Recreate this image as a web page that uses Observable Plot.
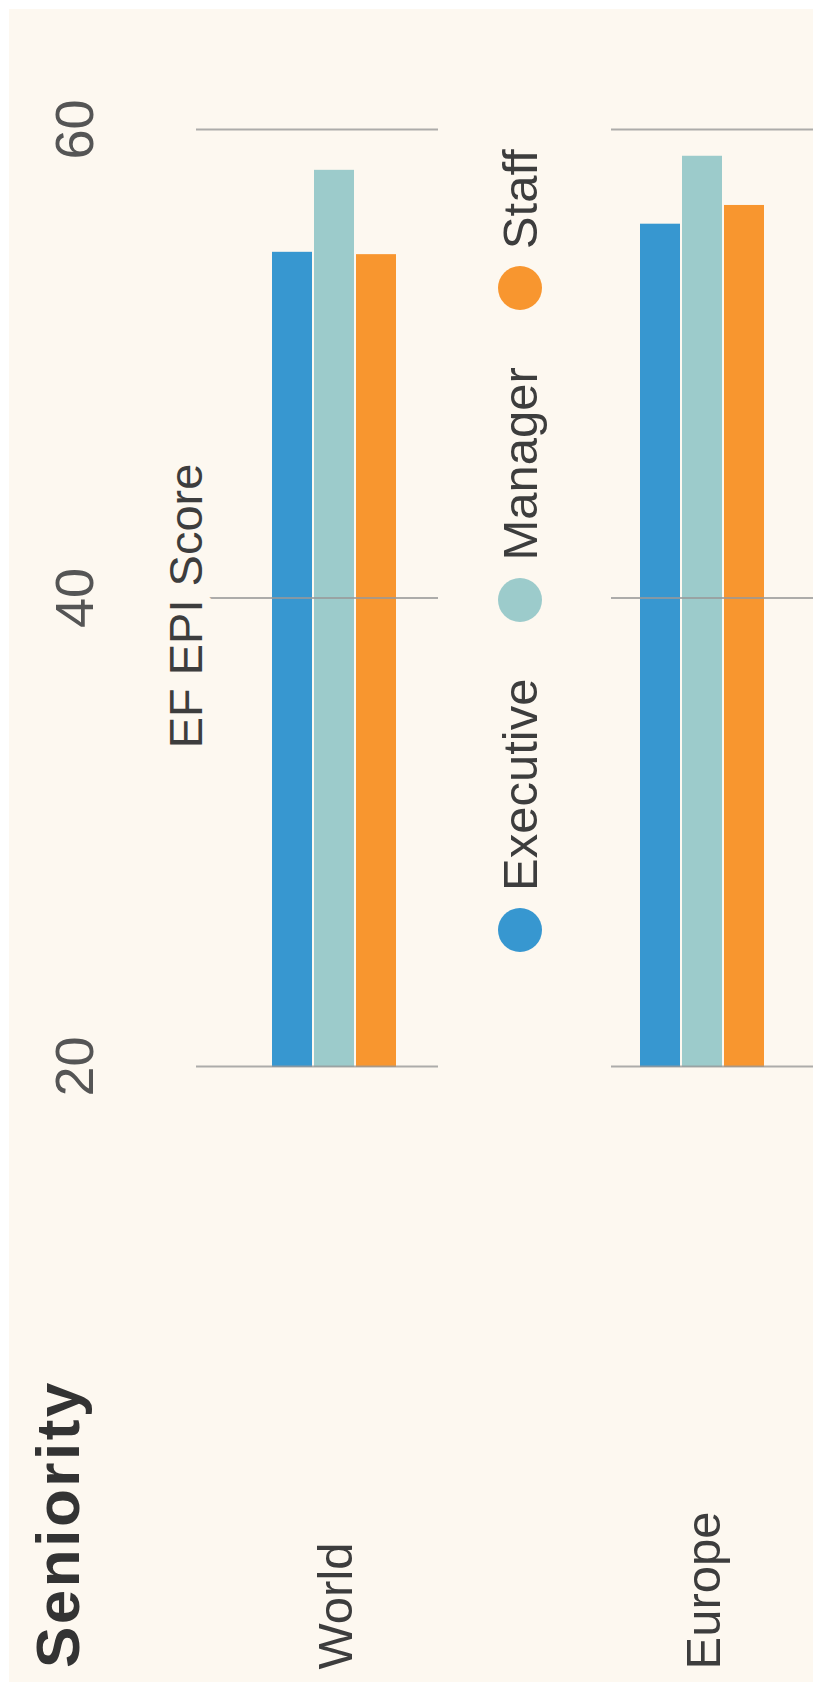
<!DOCTYPE html>
<html>
<head>
<meta charset="utf-8">
<script src="https://cdn.jsdelivr.net/npm/d3@7"></script>
<script src="https://cdn.jsdelivr.net/npm/@observablehq/plot@0.6"></script>
<style>
  html, body { margin: 0; padding: 0; width: 813px; height: 1691px; overflow: hidden; background: #ffffff; }
  #rot { position: absolute; left: 0; top: 0; width: 1691px; height: 813px; overflow: hidden;
         transform-origin: 0 0; transform: translateY(1691px) rotate(-90deg);
         font-family: 'Liberation Sans', Arial, Helvetica, sans-serif; }
  #panel { position: absolute; left: 9px; top: 9px; right: 9px; bottom: 0; background: #fdf8f0; }
  #title { position: absolute; left: 23px; top: 27px; font-weight: bold; font-size: 62px; letter-spacing: 2.5px;
           line-height: 1; color: #333333; white-space: nowrap; }
  #chart { position: absolute; left: 0; top: 0; }
  #legend { position: absolute; left: 560px; top: 438px; width: 1100px; height: 173px; box-sizing: border-box;
            padding-left: 179px; padding-bottom: 10px; background: #fdf8f0; display: flex; align-items: center; }
  .item { display: flex; align-items: center; margin-right: 57px; }
  .dot { width: 44px; height: 44px; border-radius: 50%; margin-right: 17px; }
  .lab { font-size: 49px; line-height: 50px; color: #3d3d3d; white-space: nowrap; }
</style>
</head>
<body>
<div id="rot">
  <div id="panel"></div>
  <div id="chart"></div>
  <div id="title"></div>
  <div id="legend"></div>
</div>
<script>
const title = "Seniority";
const axisTitle = "EF EPI Score";
const regions = ["World", "Europe"];
const seniorities = ["Executive", "Manager", "Staff"];
const worldScores = [54.8, 58.3, 54.7];
const europeScores = [56.0, 58.9, 56.8];
const xTicks = [20, 40, 60];
const seriesColors = ["#3797d0", "#9ccbcb", "#f8962f"];

const scoresByRegion = [worldScores, europeScores];
const rows = regions.flatMap((r, i) =>
  seniorities.map((s, j) => ({region: r, seniority: s, score: scoresByRegion[i][j]})));

const cream = "#fdf8f0";

const chart = Plot.plot({
  width: 1691,
  height: 840,
  marginLeft: 624,
  marginRight: 130,
  marginTop: 195,
  marginBottom: 0,
  style: {background: "transparent", fontSize: "54px", fontFamily: "'Liberation Sans', Arial, sans-serif", color: "#555555"},
  x: {domain: [xTicks[0], xTicks[xTicks.length - 1]], axis: "top", ticks: xTicks, tickSize: 0, tickPadding: 104, label: null},
  y: {domain: seniorities, paddingInner: 0.05, paddingOuter: 1.81, align: 0.5, axis: null},
  fy: {domain: regions, paddingInner: 0.251, paddingOuter: 0, axis: null},
  color: {domain: seniorities, range: seriesColors},
  marks: [
    Plot.barX(rows, {fy: "region", y: "seniority", x1: xTicks[0], x2: "score", fill: "seniority"}),
    Plot.ruleX(xTicks, {stroke: "#999999", strokeWidth: 2, strokeOpacity: 0.8}),
    Plot.text([axisTitle], {fy: () => regions[0], text: d => d, frameAnchor: "top", lineAnchor: "bottom",
      dy: 5, dx: -8, fontSize: 47, fill: "#3d3d3d", stroke: cream, strokeWidth: 20}),
    Plot.text(regions, {fy: d => d, text: d => d, frameAnchor: "left", textAnchor: "start",
      dx: -603, dy: 2, fontSize: 49, fill: "#3d3d3d"})
  ]
});
document.getElementById("chart").appendChild(chart);
document.getElementById("title").textContent = title;

const legend = document.getElementById("legend");
seniorities.forEach((s, i) => {
  const item = document.createElement("div");
  item.className = "item";
  const dot = document.createElement("div");
  dot.className = "dot";
  dot.style.background = seriesColors[i];
  const lab = document.createElement("span");
  lab.className = "lab";
  lab.textContent = s;
  item.appendChild(dot);
  item.appendChild(lab);
  legend.appendChild(item);
});
</script>
</body>
</html>
